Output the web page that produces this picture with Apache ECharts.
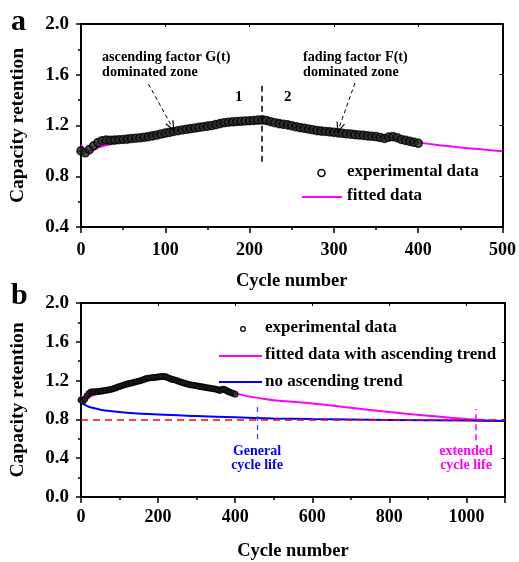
<!DOCTYPE html>
<html>
<head>
<meta charset="utf-8">
<script src="https://cdn.jsdelivr.net/npm/echarts@6/dist/echarts.min.js"></script>
<style>
  html, body { margin: 0; padding: 0; background: #fff; }
  #chart { width: 519px; height: 562px; }
</style>
</head>
<body>
<div id="chart"></div>
<script>
// capacity retention: experimental points + fitted curves (panels a and b)
const expCycles = [0,5,10,15,20,25,30,35,40,45,50,55,60,65,70,75,80,85,90,95,
  100,105,110,115,120,125,130,135,140,145,150,155,160,165,170,175,180,185,190,195,
  200,205,210,215,220,225,230,235,240,245,250,255,260,265,270,275,280,285,290,295,
  300,305,310,315,320,325,330,335,340,345,350,355,360,365,370,375,380,385,390,395,400];
const expRetention = [1.000,0.985,1.010,1.040,1.065,1.080,1.085,1.083,1.085,1.088,
  1.090,1.093,1.097,1.100,1.103,1.107,1.112,1.118,1.125,1.133,
  1.140,1.146,1.153,1.159,1.165,1.170,1.175,1.180,1.185,1.190,
  1.195,1.200,1.207,1.215,1.222,1.226,1.229,1.231,1.233,1.236,
  1.238,1.240,1.243,1.244,1.240,1.230,1.222,1.215,1.210,1.205,
  1.198,1.190,1.183,1.178,1.172,1.166,1.160,1.156,1.153,1.150,
  1.146,1.142,1.139,1.135,1.132,1.128,1.125,1.122,1.118,1.115,
  1.112,1.105,1.098,1.108,1.112,1.104,1.090,1.083,1.075,1.068,1.060];

const fitCycles = [0,5,10,20,30,50,75,100,125,150,175,200,215,230,250,275,300,325,350,375,400,425,450,475,500,
  600,700,800,900,1000,1050,1100];
const fitRetention = [1.045,1.005,1.000,1.025,1.045,1.075,1.110,1.145,1.170,1.190,1.205,1.215,1.217,1.212,1.197,1.177,1.156,1.136,1.115,1.090,1.066,1.045,1.027,1.012,0.998,
  0.965,0.920,0.876,0.838,0.803,0.792,0.783];

const noAscCycles = [0,5,10,20,35,50,80,120,200,300,400,500,600,800,1000,1100];
const noAscRetention = [1.000,0.965,0.950,0.930,0.915,0.900,0.884,0.868,0.850,0.835,0.822,0.810,0.803,0.795,0.788,0.783];

const threshold = 0.8;
const zoneDivider = 215;
const generalLife = 457;
const extendedLife = 1023;

const yTicksA = { min: 0.4, max: 2.0, step: 0.4 };
const yTicksB = { min: 0.0, max: 2.0, step: 0.4 };
const xTicksA = { min: 0, max: 500, step: 100 };
const xTicksB = { min: 0, max: 1100, step: 200 };

const pairs = (xs, ys, upTo) => xs.map((x, i) => [x, ys[i]]).filter((p) => upTo == null || p[0] <= upTo);

const FONT = "'Liberation Serif', 'Times New Roman', serif";
const MAGENTA = "#ff00ff";
const BLUE = "#0000ff";

function mainX(idx, t, labelMargin) {
  return {
    gridIndex: idx, type: "value", min: t.min, max: t.max, interval: t.step,
    axisLine: { onZero: false, lineStyle: { color: "#000", width: 2 } },
    axisTick: { inside: false, length: 6, lineStyle: { color: "#000", width: 1.5 } },
    minorTick: { show: true, splitNumber: 2, length: 3, lineStyle: { color: "#000", width: 1.5 } },
    axisLabel: {
      color: "#000", fontFamily: FONT, fontWeight: "bold", fontSize: 18, margin: labelMargin,
      showMaxLabel: t.max % t.step === 0, formatter: (v) => String(v),
    },
    splitLine: { show: false },
    name: "Cycle number", nameLocation: "middle", nameGap: 45,
    nameTextStyle: { color: "#000", fontFamily: FONT, fontWeight: "bold", fontSize: 18.5 },
  };
}
function mainY(idx, t) {
  return {
    gridIndex: idx, type: "value", min: t.min, max: t.max, interval: t.step,
    axisLine: { onZero: false, lineStyle: { color: "#000", width: 2 } },
    axisTick: { inside: false, length: 5, lineStyle: { color: "#000", width: 1.5 } },
    minorTick: { show: true, splitNumber: 2, length: 3, lineStyle: { color: "#000", width: 1.5 } },
    axisLabel: { color: "#000", fontFamily: FONT, fontWeight: "bold", fontSize: 19, margin: 12, formatter: (v) => v.toFixed(1) },
    splitLine: { show: false },
    name: "Capacity retention", nameLocation: "middle", nameGap: 53, nameRotate: 90,
    nameTextStyle: { color: "#000", fontFamily: FONT, fontWeight: "bold", fontSize: 19.5 },
  };
}
// mirror axes on top / right with tiny inward ticks
function mirror(idx, t, position) {
  return {
    gridIndex: idx, type: "value", min: t.min, max: t.max, interval: t.step, position,
    axisLine: { onZero: false, lineStyle: { color: "#000", width: 2 } },
    axisTick: { inside: true, length: 3, lineStyle: { color: "#000", width: 1 } },
    axisLabel: { show: false }, splitLine: { show: false },
  };
}

const vline = (x, y0, y1, color, width, type) => ({
  silent: true, symbol: ["none", "none"],
  lineStyle: { color, width, type },
  label: { show: false },
  data: [[{ coord: [x, y0] }, { coord: [x, y1] }]],
});

const arrowPath = "path://M0,10 L5,0 L10,10 L8.6,10 L5,2.6 L1.4,10 Z";
const arrows = {
  silent: true, symbol: ["none", arrowPath], symbolSize: [9, 11],
  lineStyle: { color: "#000", width: 1, type: [4, 3] },
  label: { show: false },
  data: [
    [{ coord: [80, 1.527] }, { coord: [108, 1.19] }],
    [{ coord: [325, 1.535] }, { coord: [306, 1.18] }],
  ],
};

// y is the vertical centre of the text
const txt = (x, y, text, opts = {}) => ({
  type: "text", x, y, silent: true,
  style: Object.assign({ text, fill: "#000", font: `bold 14.2px ${FONT}`, verticalAlign: "middle", align: "left" }, opts),
});

const chart = echarts.init(document.getElementById("chart"), null, { renderer: "canvas" });
chart.setOption({
  animation: false,
  grid: [
    { left: 80, top: 24, width: 425, height: 203 },
    { left: 80, top: 303, width: 425, height: 198 },
  ],
  xAxis: [
    mainX(0, xTicksA, 14), mainX(1, xTicksB, 11),
    mirror(0, xTicksA, "top"), mirror(1, xTicksB, "top"),
  ],
  yAxis: [
    mainY(0, yTicksA), mainY(1, yTicksB),
    mirror(0, yTicksA, "right"), mirror(1, yTicksB, "right"),
  ],
  series: [
    {
      name: "fitted data", type: "line", xAxisIndex: 0, yAxisIndex: 0,
      data: pairs(fitCycles, fitRetention, 500), smooth: 0.3, showSymbol: false, z: 2,
      lineStyle: { color: MAGENTA, width: 2 },
      markLine: vline(zoneDivider, 0.915, 1.535, "#000", 1.5, [6, 4]),
    },
    {
      name: "annotations", type: "line", xAxisIndex: 0, yAxisIndex: 0, data: [], markLine: arrows,
    },
    {
      name: "experimental data", type: "scatter", xAxisIndex: 0, yAxisIndex: 0,
      data: pairs(expCycles, expRetention), symbol: "circle", symbolSize: 8, z: 3,
      itemStyle: { color: "#2a2a2a", borderColor: "#000", borderWidth: 1.6 },
    },
    {
      name: "threshold", type: "line", xAxisIndex: 1, yAxisIndex: 1, data: [], z: 4,
      markLine: {
        silent: true, symbol: ["none", "none"], label: { show: false },
        lineStyle: { color: "#ff0000", width: 1.5, type: [7, 5] },
        data: [{ yAxis: threshold }],
      },
    },
    {
      name: "no ascending trend", type: "line", xAxisIndex: 1, yAxisIndex: 1,
      data: pairs(noAscCycles, noAscRetention), smooth: 0.4, showSymbol: false, z: 3,
      lineStyle: { color: BLUE, width: 2 },
      markLine: vline(generalLife, 0.597, 0.938, "#4a4aff", 1.4, [5, 4]),
    },
    {
      name: "fitted data with ascending trend", type: "line", xAxisIndex: 1, yAxisIndex: 1,
      data: pairs(fitCycles, fitRetention), smooth: 0.3, showSymbol: false, z: 2,
      lineStyle: { color: MAGENTA, width: 2 },
      markLine: vline(extendedLife, 0.584, 0.907, MAGENTA, 1.5, [6, 4]),
    },
    {
      name: "experimental data b", type: "scatter", xAxisIndex: 1, yAxisIndex: 1,
      data: pairs(expCycles, expRetention), symbol: "circle", symbolSize: 5.5, z: 5,
      itemStyle: { color: "#333", borderColor: "#000", borderWidth: 1.3 },
    },
  ],
  graphic: [
    txt(11, 22, "a", { font: `bold 30px ${FONT}` }),
    txt(11, 296, "b", { font: `bold 30px ${FONT}` }),
    txt(102, 57.5, "ascending factor G(t)"),
    txt(102, 72.5, "dominated zone"),
    txt(303, 57.5, "fading factor F(t)"),
    txt(303, 72.5, "dominated zone"),
    txt(235, 97, "1", { font: `bold 15px ${FONT}` }),
    txt(284, 97, "2", { font: `bold 15px ${FONT}` }),
    // legend a
    { type: "circle", shape: { cx: 321.5, cy: 173, r: 3.5 }, style: { fill: "#fff", stroke: "#000", lineWidth: 1.5 }, silent: true },
    txt(347, 172, "experimental data", { font: `bold 17px ${FONT}` }),
    { type: "line", shape: { x1: 302, y1: 197, x2: 342, y2: 197 }, style: { stroke: MAGENTA, lineWidth: 2 }, silent: true },
    txt(347, 196, "fitted data", { font: `bold 17px ${FONT}` }),
    // legend b
    { type: "circle", shape: { cx: 243, cy: 329, r: 2.3 }, style: { fill: "#fff", stroke: "#000", lineWidth: 1.3 }, silent: true },
    txt(265, 328, "experimental data", { font: `bold 17px ${FONT}` }),
    { type: "line", shape: { x1: 219, y1: 356, x2: 262, y2: 356 }, style: { stroke: MAGENTA, lineWidth: 2 }, silent: true },
    txt(265, 355, "fitted data with ascending trend", { font: `bold 17px ${FONT}` }),
    { type: "line", shape: { x1: 219, y1: 382, x2: 262, y2: 382 }, style: { stroke: BLUE, lineWidth: 2 }, silent: true },
    txt(265, 382, "no ascending trend", { font: `bold 17px ${FONT}` }),
    txt(257, 451, "General", { fill: BLUE, font: `bold 14px ${FONT}`, align: "center" }),
    txt(257, 465, "cycle life", { fill: BLUE, font: `bold 14px ${FONT}`, align: "center" }),
    txt(466, 451, "extended", { fill: MAGENTA, font: `bold 14px ${FONT}`, align: "center" }),
    txt(466, 465, "cycle life", { fill: MAGENTA, font: `bold 14px ${FONT}`, align: "center" }),
  ],
});
</script>
</body>
</html>
